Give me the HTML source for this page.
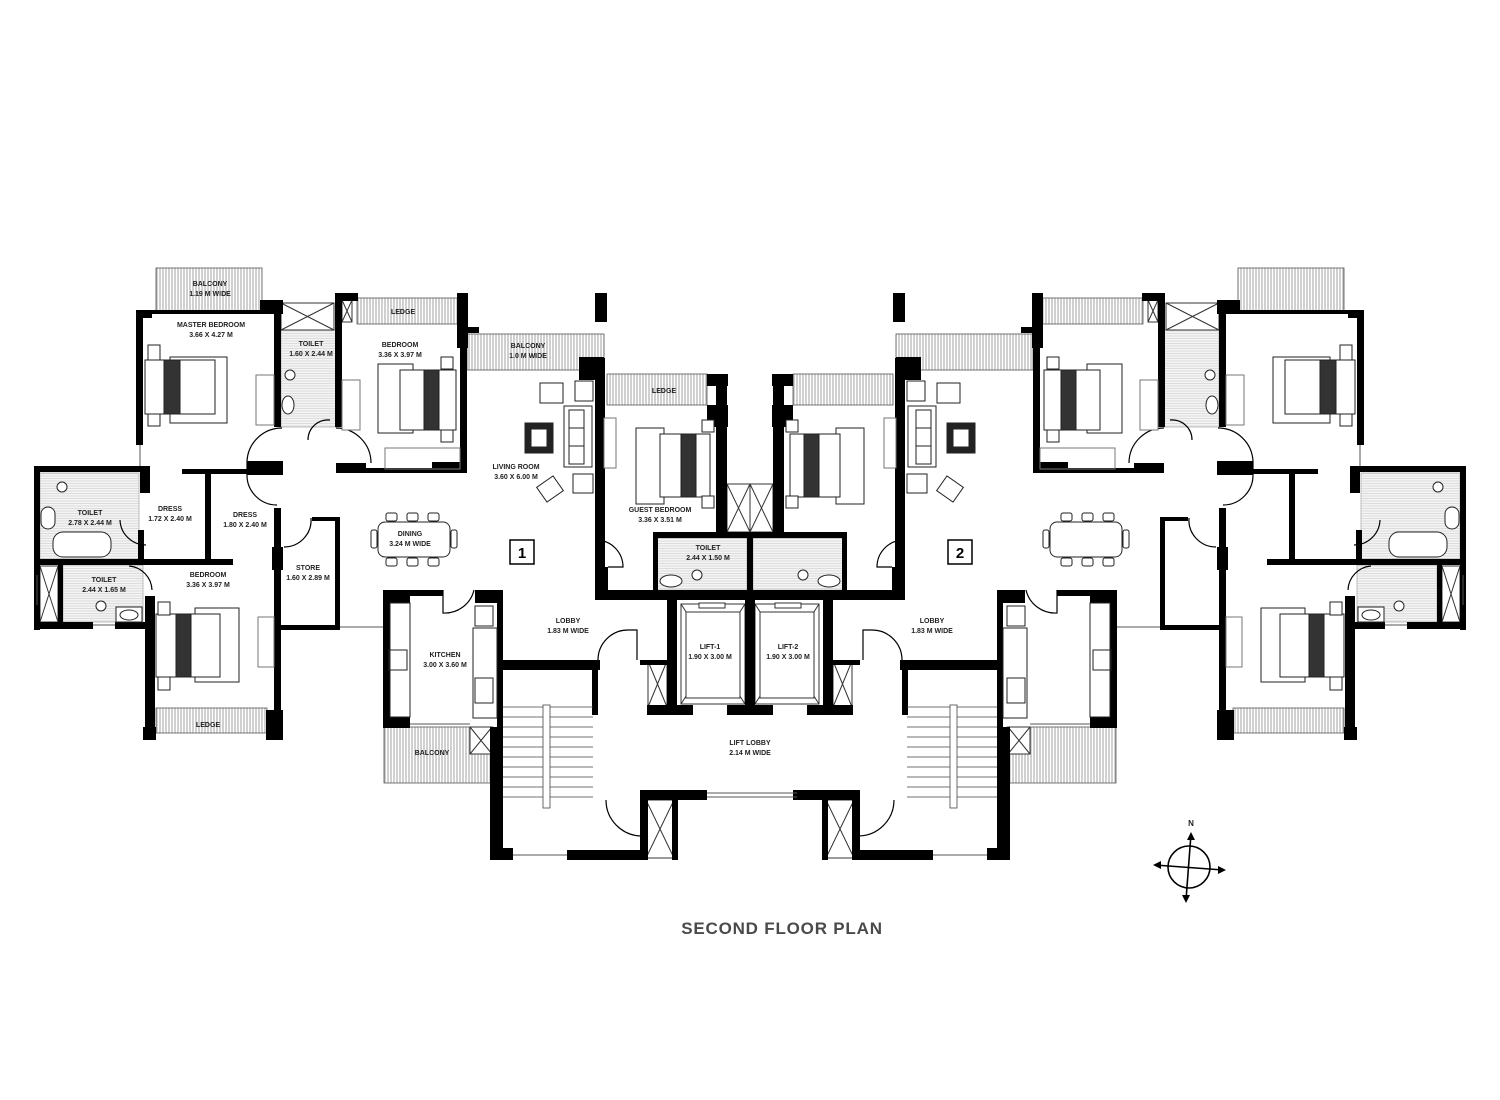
<!DOCTYPE html>
<html><head><meta charset="utf-8"><style>
html,body{margin:0;padding:0;background:#fff;}
svg{display:block}
text{font-family:"Liberation Sans",sans-serif;font-size:7px;fill:#222;text-anchor:middle;font-weight:bold}
</style></head><body>
<svg width="1500" height="1100" viewBox="0 0 1500 1100" xmlns="http://www.w3.org/2000/svg">
<defs>
<pattern id="h" width="3" height="10" patternUnits="userSpaceOnUse"><rect width="3" height="10" fill="#fff"/><line x1="1" y1="0" x2="1" y2="10" stroke="#888" stroke-width="0.8"/></pattern>
<pattern id="t" width="10" height="2.5" patternUnits="userSpaceOnUse"><rect width="10" height="2.5" fill="#f4f4f4"/><line x1="0" y1="1" x2="10" y2="1" stroke="#ccc" stroke-width="0.6"/></pattern>
<g id="L">
 <!-- hatched balconies/ledges -->
 <g stroke="#555" stroke-width="0.8">
  <rect x="156" y="268" width="106" height="44" fill="url(#h)"/>
  <rect x="357" y="298" width="101" height="26" fill="url(#h)"/>
  <rect x="467" y="334" width="137" height="36" fill="url(#h)"/>
  <rect x="607" y="374" width="100" height="31" fill="url(#h)"/>
  <rect x="156" y="708" width="111" height="25" fill="url(#h)"/>
  <rect x="384" y="727" width="109" height="56" fill="url(#h)"/>
 </g>
 <!-- toilet floors -->
 <g fill="url(#t)" stroke="#999" stroke-width="0.6">
  <rect x="281" y="330" width="55" height="97"/>
  <rect x="40" y="473" width="99" height="86"/>
  <rect x="63" y="565" width="80" height="57"/>
  <rect x="655" y="538" width="92" height="52"/>
 </g>
 <!-- shafts with X -->
 <g fill="#fff" stroke="#333" stroke-width="1">
  <rect x="281" y="303" width="53" height="27"/><path d="M281 303L334 330M334 303L281 330"/>
  <rect x="40" y="566" width="18" height="56"/><path d="M40 566L58 622M58 566L40 622"/>
  <rect x="470" y="727" width="22" height="27"/><path d="M470 727L492 754M492 727L470 754"/>
  <rect x="648" y="661" width="19" height="46"/><path d="M648 661L667 707M667 661L648 707"/>
  <rect x="646" y="800" width="28" height="58"/><path d="M646 800L674 858M674 800L646 858"/>
  <rect x="727" y="484" width="23" height="48"/><path d="M727 484L750 532M750 484L727 532"/>
  <rect x="681" y="604" width="64" height="100"/><path d="M681 604L745 704M745 604L681 704"/>
  <rect x="686" y="612" width="54" height="86"/>
  <rect x="699" y="603" width="26" height="5"/>
  <rect x="268" y="712" width="10" height="22"/><path d="M268 712L278 734M278 712L268 734"/>
  <rect x="342" y="300" width="10" height="22"/><path d="M342 300L352 322M352 300L342 322"/>
  <rect x="596" y="361" width="8" height="22"/>
 </g>
 <!-- walls -->
 <g fill="#000">
  <!-- master bedroom -->
  <rect x="136" y="310" width="7" height="135"/><rect x="136" y="310" width="16" height="8"/>
  <rect x="136" y="310" width="126" height="4"/>
  <rect x="260" y="300" width="23" height="14"/>
  <rect x="274" y="300" width="7" height="127"/>
  <rect x="335" y="293" width="7" height="134"/>
  <rect x="336" y="293" width="22" height="8"/><rect x="336" y="293" width="6" height="37"/>
  <rect x="457" y="293" width="11" height="55"/>
  <rect x="460" y="293" width="7" height="180"/>
  <rect x="336" y="463" width="30" height="10"/><rect x="336" y="468" width="131" height="5"/><rect x="432" y="462" width="35" height="11"/>
  <rect x="247" y="461" width="36" height="14"/>
  <rect x="182" y="469" width="101" height="5"/>
  <!-- left toilet / dress -->
  <rect x="34" y="466" width="6" height="164"/>
  <rect x="34" y="466" width="116" height="6"/>
  <rect x="140" y="466" width="10" height="27"/>
  <rect x="138" y="530" width="6" height="30"/>
  <rect x="205" y="470" width="6" height="90"/>
  <rect x="34" y="559" width="199" height="6"/>
  <rect x="58" y="564" width="5" height="58"/>
  <rect x="34" y="622" width="59" height="7"/><rect x="115" y="622" width="35" height="7"/>
  <!-- bedroom 3 -->
  <rect x="145" y="596" width="10" height="144"/><rect x="143" y="727" width="13" height="13"/>
  <rect x="274" y="508" width="7" height="232"/><rect x="272" y="547" width="11" height="23"/>
  <rect x="266" y="710" width="17" height="30"/>
  <!-- store -->
  <rect x="312" y="517" width="28" height="4"/><rect x="335" y="517" width="5" height="113"/>
  <rect x="281" y="625" width="59" height="5"/>
  <!-- kitchen -->
  <rect x="383" y="590" width="7" height="137"/><rect x="383" y="590" width="27" height="13"/>
  <rect x="383" y="590" width="60" height="6"/>
  <rect x="475" y="590" width="28" height="13"/>
  <rect x="497" y="590" width="6" height="270"/>
  <rect x="383" y="717" width="27" height="11"/>
  <rect x="490" y="727" width="13" height="133"/>
  <!-- stair -->
  <rect x="497" y="660" width="103" height="10"/><rect x="592" y="660" width="6" height="55"/>
  <rect x="490" y="848" width="23" height="12"/><rect x="567" y="850" width="81" height="10"/>
  <rect x="640" y="790" width="63" height="10"/><rect x="640" y="790" width="8" height="70"/><rect x="672" y="790" width="6" height="70"/>
  <rect x="793" y="790" width="65" height="10"/>
  <!-- lifts -->
  <rect x="667" y="592" width="10" height="123"/><rect x="745" y="592" width="10" height="123"/>
  <rect x="595" y="590" width="310" height="10"/>
  <rect x="647" y="705" width="46" height="10"/><rect x="727" y="705" width="46" height="10"/>
  <rect x="640" y="660" width="27" height="5"/>
  <!-- guest bedroom -->
  <rect x="595" y="358" width="10" height="235"/>
  <rect x="595" y="293" width="12" height="29"/>
  <rect x="579" y="357" width="25" height="23"/>
  <rect x="707" y="374" width="21" height="12"/><rect x="707" y="405" width="21" height="22"/>
  <rect x="716" y="374" width="11" height="160"/>
  <rect x="653" y="532" width="97" height="6"/>
  <rect x="653" y="532" width="5" height="60"/>
  <rect x="747" y="538" width="6" height="55"/>
  <rect x="595" y="567" width="13" height="26"/>
  <rect x="466" y="327" width="13" height="6"/>
 </g>
 <!-- windows -->
 <g stroke="#555" stroke-width="1" fill="none">
  <line x1="340" y1="627" x2="383" y2="627"/><line x1="140" y1="445" x2="140" y2="466"/>
  <line x1="93" y1="625" x2="115" y2="625"/><line x1="513" y1="855" x2="567" y2="855"/>
  <line x1="703" y1="793" x2="793" y2="793"/><line x1="703" y1="797" x2="793" y2="797"/>
  <line x1="410" y1="724" x2="470" y2="724"/><line x1="37" y1="575" x2="37" y2="605"/>
 </g>
 <!-- doors -->
 <g stroke="#000" stroke-width="1.2" fill="none">
  <path d="M247 461 A35 35 0 0 1 282 428"/><path d="M247 470 L247 461"/>
  <path d="M336 428 A35 35 0 0 1 371 463"/>
  <path d="M247 474 A30 30 0 0 0 277 505"/>
  <path d="M311 518 A27 27 0 0 1 284 547"/>
  <path d="M120 520 A26 26 0 0 0 146 545"/>
  <path d="M129 566 A25 25 0 0 1 152 590"/>
  <path d="M443 590 L443 613 A30 30 0 0 0 474 590"/>
  <path d="M598 660 A30 30 0 0 1 628 630 L637 630 L637 660"/>
  <path d="M597 540 A27 27 0 0 1 623 567 L608 567"/>
  <path d="M308 440 A20 20 0 0 1 330 420"/>
  <path d="M858 800 L858 836 A36 36 0 0 0 894 800"/>
 </g>
 <!-- stair -->
 <g stroke="#444" stroke-width="0.8" fill="none">
  <path d="M503 707H593M503 717H593M503 727H593M503 737H593M503 747H593M503 757H593M503 767H593M503 777H593M503 787H593M503 797H593"/>
  <rect x="543" y="705" width="7" height="103" fill="#fff"/>
 </g>
 <!-- furniture -->
 <g stroke="#222" stroke-width="1" fill="#fff">
  <rect x="170" y="357" width="57" height="66"/><rect x="145" y="360" width="70" height="54"/><rect x="164" y="360" width="16" height="54" fill="#333"/>
  <rect x="148" y="345" width="12" height="15"/><rect x="148" y="414" width="12" height="12"/>
  <rect x="378" y="364" width="35" height="69"/><rect x="400" y="370" width="56" height="60"/><rect x="424" y="370" width="15" height="60" fill="#333"/>
  <rect x="441" y="357" width="12" height="12"/><rect x="441" y="430" width="12" height="12"/>
  <rect x="385" y="448" width="75" height="21" fill="none" stroke="#777"/>
  <rect x="195" y="608" width="44" height="74"/><rect x="156" y="614" width="64" height="63"/><rect x="176" y="614" width="15" height="63" fill="#333"/>
  <rect x="158" y="602" width="12" height="13"/><rect x="158" y="677" width="12" height="13"/>
  <rect x="636" y="428" width="28" height="76"/><rect x="660" y="434" width="50" height="63"/><rect x="681" y="434" width="15" height="63" fill="#333"/>
  <rect x="702" y="420" width="12" height="12"/><rect x="702" y="496" width="12" height="12"/>
  <rect x="256" y="375" width="18" height="50" stroke="#777"/><rect x="342" y="380" width="18" height="50" stroke="#777"/>
  <rect x="258" y="617" width="16" height="50" stroke="#777"/>
  <rect x="604" y="418" width="12" height="50" stroke="#777"/>
  <rect x="525" y="423" width="28" height="30" fill="#222"/><rect x="531" y="429" width="16" height="18"/>
  <rect x="564" y="406" width="28" height="61"/><rect x="569" y="410" width="15" height="18"/><rect x="569" y="428" width="15" height="18"/><rect x="569" y="446" width="15" height="18"/>
  <rect x="540" y="383" width="23" height="20"/><rect x="575" y="381" width="18" height="20"/><rect x="573" y="474" width="20" height="19"/>
  <rect x="540" y="480" width="20" height="18" transform="rotate(-35 550 489)"/>
  <rect x="378" y="522" width="72" height="35" rx="7"/>
  <rect x="386" y="513" width="11" height="8" rx="2"/><rect x="407" y="513" width="11" height="8" rx="2"/><rect x="428" y="513" width="11" height="8" rx="2"/>
  <rect x="386" y="558" width="11" height="8" rx="2"/><rect x="407" y="558" width="11" height="8" rx="2"/><rect x="428" y="558" width="11" height="8" rx="2"/>
  <rect x="371" y="530" width="6" height="18" rx="2"/><rect x="451" y="530" width="6" height="18" rx="2"/>
  <rect x="53" y="532" width="58" height="25" rx="10"/>
  <rect x="41" y="507" width="14" height="22" rx="7"/>
  <circle cx="62" cy="487" r="5"/><circle cx="290" cy="375" r="5"/><circle cx="101" cy="606" r="5"/><circle cx="697" cy="575" r="5"/>
  <ellipse cx="288" cy="405" rx="6" ry="9"/><rect x="116" y="607" width="26" height="15"/><ellipse cx="129" cy="615" rx="9" ry="5"/>
  <ellipse cx="671" cy="581" rx="11" ry="6"/>
  <rect x="389" y="650" width="18" height="20"/><rect x="475" y="606" width="18" height="20"/><rect x="475" y="678" width="18" height="25"/>
  <rect x="390" y="603" width="20" height="114" fill="none"/><rect x="473" y="628" width="24" height="90" fill="none"/>
 </g>
</g>
</defs>
<use href="#L"/>
<use href="#L" transform="translate(1500,0) scale(-1,1)"/>

<!-- labels -->
<text x="210" y="286">BALCONY</text><text x="210" y="296">1.19 M WIDE</text>
<text x="211" y="327">MASTER BEDROOM</text><text x="211" y="337">3.66 X 4.27 M</text>
<text x="311" y="346">TOILET</text><text x="311" y="356">1.60 X 2.44 M</text>
<text x="400" y="347">BEDROOM</text><text x="400" y="357">3.36 X 3.97 M</text>
<text x="403" y="314">LEDGE</text>
<text x="528" y="348">BALCONY</text><text x="528" y="358">1.0 M WIDE</text>
<text x="664" y="393">LEDGE</text>
<text x="516" y="469">LIVING ROOM</text><text x="516" y="479">3.60 X 6.00 M</text>
<text x="660" y="512">GUEST BEDROOM</text><text x="660" y="522">3.36 X 3.51 M</text>
<text x="410" y="536">DINING</text><text x="410" y="546">3.24 M WIDE</text>
<text x="90" y="515">TOILET</text><text x="90" y="525">2.78 X 2.44 M</text>
<text x="170" y="511">DRESS</text><text x="170" y="521">1.72 X 2.40 M</text>
<text x="245" y="517">DRESS</text><text x="245" y="527">1.80 X 2.40 M</text>
<text x="308" y="570">STORE</text><text x="308" y="580">1.60 X 2.89 M</text>
<text x="104" y="582">TOILET</text><text x="104" y="592">2.44 X 1.65 M</text>
<text x="208" y="577">BEDROOM</text><text x="208" y="587">3.36 X 3.97 M</text>
<text x="208" y="727">LEDGE</text>
<text x="445" y="657">KITCHEN</text><text x="445" y="667">3.00 X 3.60 M</text>
<text x="432" y="755">BALCONY</text>
<text x="568" y="623">LOBBY</text><text x="568" y="633">1.83 M WIDE</text>
<text x="932" y="623">LOBBY</text><text x="932" y="633">1.83 M WIDE</text>
<text x="708" y="550">TOILET</text><text x="708" y="560">2.44 X 1.50 M</text>
<text x="710" y="649">LIFT-1</text><text x="710" y="659">1.90 X 3.00 M</text>
<text x="788" y="649">LIFT-2</text><text x="788" y="659">1.90 X 3.00 M</text>
<text x="750" y="745">LIFT LOBBY</text><text x="750" y="755">2.14 M WIDE</text>
<rect x="510" y="540" width="24" height="24" fill="#fff" stroke="#000" stroke-width="1.5"/>
<text x="522" y="558" style="font-size:15px;fill:#000">1</text>
<rect x="948" y="540" width="24" height="24" fill="#fff" stroke="#000" stroke-width="1.5"/>
<text x="960" y="558" style="font-size:15px;fill:#000">2</text>

<!-- compass -->
<g stroke="#000" stroke-width="1.6" fill="none">
 <circle cx="1189" cy="867" r="21"/>
 <line x1="1191" y1="834" x2="1186" y2="900"/>
 <line x1="1155" y1="865" x2="1223" y2="870"/>
</g>
<g fill="#000">
 <path d="M1191 832 l-4 8 h8z"/><path d="M1186 903 l-4 -8 h8z"/>
 <path d="M1153 865 l8 -4 v8z"/><path d="M1226 870 l-8 -4 v8z"/>
</g>
<text x="1191" y="826" style="font-size:8px">N</text>

<text x="782" y="934" style="font-size:17px;fill:#4a4a4a;letter-spacing:0.8px">SECOND FLOOR PLAN</text>
</svg>
</body></html>
